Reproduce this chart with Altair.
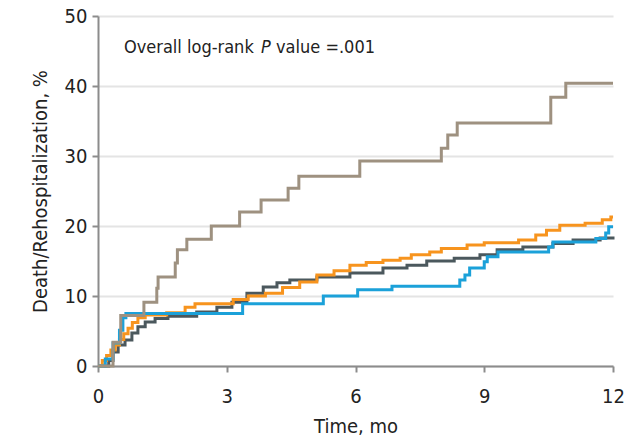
import altair as alt
import pandas as pd

# ---- data ----
tan_t = [0, 0.35, 0.53, 1.07, 1.37, 1.40, 1.80, 1.85, 2.07, 2.64, 3.30, 3.80, 4.43, 4.68, 6.10, 8.00, 8.15, 8.37, 10.55, 10.90, 12.0]
tan_v = [0, 3.4, 7.2, 9.1, 11.1, 12.7, 14.7, 16.6, 18.1, 20.0, 22.0, 23.7, 25.4, 27.1, 29.3, 31.1, 33.0, 34.7, 38.4, 40.4, 40.4]

blue_t = [0, 0.17, 0.35, 0.50, 0.58, 0.65, 3.37, 5.25, 6.05, 6.85, 8.43, 8.55, 8.66, 9.00, 9.07, 9.32, 10.50, 10.60, 11.60, 11.83, 11.90, 12.0]
blue_v = [0, 1.0, 3.3, 5.1, 6.9, 7.5, 8.9, 10.0, 10.9, 11.4, 12.3, 13.0, 14.0, 14.9, 15.6, 16.3, 17.0, 17.7, 18.2, 19.0, 19.9, 19.9]

orange_t = [0, 0.10, 0.20, 0.30, 0.40, 0.50, 0.60, 0.70, 0.80, 0.93, 1.10, 1.60, 2.03, 2.26, 3.15, 3.50, 3.90, 4.30, 4.70, 5.10, 5.50, 5.87, 6.25, 6.64, 7.04, 7.30, 7.73, 8.00, 8.60, 9.00, 9.80, 10.20, 10.45, 10.76, 11.35, 11.75, 11.95, 12.0]
orange_v = [0, 0.8, 1.5, 2.3, 3.0, 3.8, 4.6, 5.4, 6.2, 6.9, 7.3, 7.6, 8.4, 8.9, 9.5, 10.0, 10.4, 11.2, 12.0, 13.0, 13.6, 14.4, 14.8, 15.1, 15.4, 15.9, 16.3, 16.8, 17.3, 17.6, 18.0, 18.7, 19.4, 20.1, 20.4, 20.9, 21.3, 21.3]

gray_t = [0, 0.25, 0.35, 0.47, 0.63, 0.79, 0.93, 1.10, 1.33, 1.63, 2.30, 2.77, 3.12, 3.47, 3.85, 4.17, 4.47, 5.10, 5.87, 6.64, 7.20, 7.66, 8.30, 8.90, 9.30, 9.90, 10.60, 11.07, 11.70, 12.0]
gray_v = [0, 0.8, 2.0, 3.0, 3.7, 4.7, 5.6, 6.3, 6.8, 7.1, 7.7, 8.4, 9.1, 10.4, 11.3, 11.9, 12.3, 12.7, 13.3, 14.0, 14.4, 15.0, 15.4, 15.9, 16.6, 17.0, 17.5, 18.0, 18.3, 18.5]

groups = ["Gray", "Orange", "Blue", "Tan"]
colors = ["#4b585d", "#f7941e", "#1ba1d9", "#9e9180"]

x_ticks = [0, 3, 6, 9, 12]
y_ticks = [0, 10, 20, 30, 40, 50]

FONT = "DejaVu Sans Condensed, Liberation Sans, sans-serif"
FS = 20
AFS = 18

rows = []
for g, ts, vs in [("Gray", gray_t, gray_v), ("Orange", orange_t, orange_v),
                  ("Blue", blue_t, blue_v), ("Tan", tan_t, tan_v)]:
    for t, v in zip(ts, vs):
        rows.append({"group": g, "t": t, "v": v})
df = pd.DataFrame(rows)

xscale = alt.Scale(domain=[0, 12], nice=False, zero=False)
yscale = alt.Scale(domain=[0, 50], nice=False)
cscale = alt.Scale(domain=groups, range=colors)

xaxis = alt.Axis(values=x_ticks, title="Time, mo", grid=False, domainColor="#8c8c8c",
                 domainWidth=2, tickColor="#8c8c8c", tickWidth=2, tickSize=6,
                 labelFont=FONT, labelFontSize=FS, labelColor="#222",
                 labelPadding=14, titleFont=FONT, titleFontSize=FS, titleFontWeight="normal",
                 titleColor="#222", titlePadding=10, labelFlush=False)
yaxis = alt.Axis(values=y_ticks, title="Death/Rehospitalization, %", grid=True,
                 gridColor="#e4e4e4", gridWidth=2, domainColor="#8c8c8c", domainWidth=2,
                 tickColor="#8c8c8c", tickWidth=2, tickSize=6,
                 labelFont=FONT, labelFontSize=FS, labelColor="#222", labelPadding=5,
                 titleFont=FONT, titleFontSize=FS, titleFontWeight="normal",
                 titleColor="#222", titlePadding=14)

lines = alt.Chart(df).mark_line(
    interpolate="step-after", strokeWidth=3, strokeCap="butt", strokeJoin="miter"
).encode(
    x=alt.X("t:Q", scale=xscale, axis=xaxis),
    y=alt.Y("v:Q", scale=yscale, axis=yaxis),
    color=alt.Color("group:N", scale=cscale, legend=None),
    detail="group:N",
)

ann = pd.DataFrame({"txt": ["Overall log-rank", "P", "value =.001"],
                    "px": [26, 163, 178],
                    "style": ["normal", "italic", "normal"]})
layers = [lines]
for i in range(3):
    layers.append(
        alt.Chart(ann.iloc[[i]]).mark_text(
            align="left", baseline="middle", font=FONT, fontSize=AFS,
            fontStyle=ann["style"][i], color="#222"
        ).encode(x=alt.value(int(ann["px"][i])), y=alt.value(32), text="txt:N")
    )

chart = alt.layer(*layers).properties(
    width=515, height=350,
    autosize=alt.AutoSizeParams(type="none"),
    padding={"left": 98, "top": 16, "right": 21, "bottom": 71},
).configure_view(stroke=None)

chart.save("out.html", embed_options={"renderer": "svg", "actions": False})
